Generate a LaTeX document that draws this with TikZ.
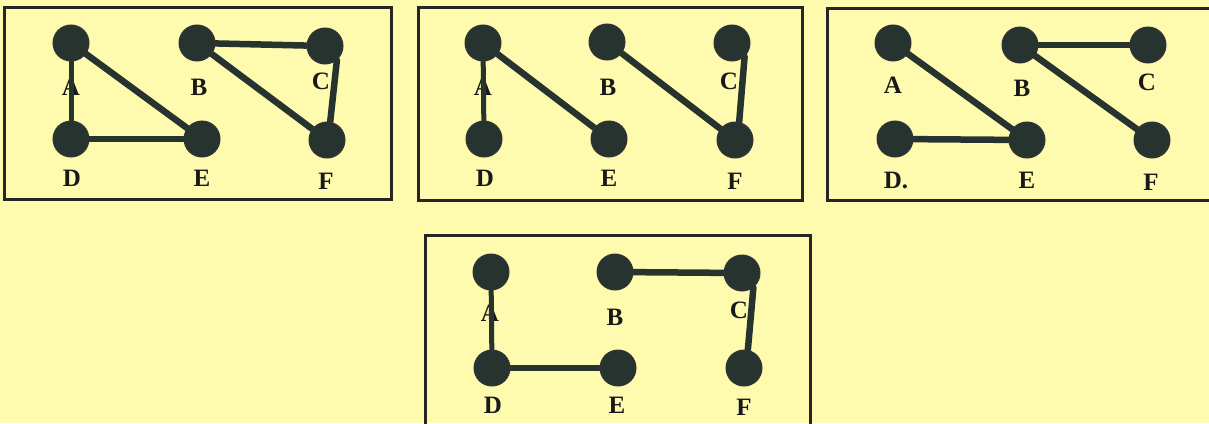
\documentclass[tikz,border=0pt]{standalone}
\usepackage{fontspec}
\setmainfont{Liberation Serif}
\pgfdeclarelayer{bg}
\pgfdeclarelayer{lbl}
\pgfdeclarelayer{edges}
\pgfsetlayers{bg,lbl,edges,main}
\definecolor{paper}{HTML}{FEFBAE}
\definecolor{ink}{HTML}{26332F}
\tikzset{
  vtx/.style={circle,fill=ink,draw=black!80,line width=1pt,minimum size=36pt,inner sep=0pt},
  lab/.style={inner sep=0pt,font=\fontsize{25}{27}\selectfont\bfseries,text=black!90},
  edg/.style={draw=ink,line width=6.5pt,line cap=round},
  thinedg/.style={draw=ink,line width=5pt,line cap=round},
  frame/.style={draw=black!85,line width=3pt},
}
\begin{document}
\begin{tikzpicture}[x=1pt,y=-1pt]
\useasboundingbox (0,0) rectangle (1209,423);
\clip (0,0) rectangle (1209,423);
\begin{pgfonlayer}{bg}
\fill[paper] (0,0) rectangle (1209,423);
\draw[frame] (4,7) rectangle (391,199);
\draw[frame] (418,7) rectangle (802,200);
\draw[frame] (827,8) rectangle (1225,200);
\draw[frame] (425,235) rectangle (810,440);
\end{pgfonlayer}
% ---------- panel 1 ----------
\node[vtx] (a1) at (71,43) {};
\node[vtx] (b1) at (197,43) {};
\node[vtx] (c1) at (325,46) {};
\node[vtx] (d1) at (71,139) {};
\node[vtx] (e1) at (202,139) {};
\node[vtx] (f1) at (327,140) {};
\begin{pgfonlayer}{lbl}
\node[lab] (la1) at (71,87) {A};
\node[lab] (lb1) at (199,87) {B};
\node[lab] (lc1) at (321,81) {C};
\node[lab] (ld1) at (72,178) {D};
\node[lab] (le1) at (202,178) {E};
\node[lab] (lf1) at (326,181) {F};
\end{pgfonlayer}
\begin{pgfonlayer}{edges}
\draw[thinedg] (a1) -- (d1);
\draw[edg] (a1) -- (e1);
\draw[edg] (d1) -- (e1);
\draw[edg] (b1) -- (c1);
\draw[edg] (b1) -- (f1);
\draw[edg] (c1.-50) -- (f1.80);
\end{pgfonlayer}
% ---------- panel 2 ----------
\node[vtx] (a2) at (483,43) {};
\node[vtx] (b2) at (607,42) {};
\node[vtx] (c2) at (732,43) {};
\node[vtx] (d2) at (484,139) {};
\node[vtx] (e2) at (609,139) {};
\node[vtx] (f2) at (735,140) {};
\begin{pgfonlayer}{lbl}
\node[lab] (la2) at (483,87) {A};
\node[lab] (lb2) at (608,87) {B};
\node[lab] (lc2) at (729,81) {C};
\node[lab] (ld2) at (485,178) {D};
\node[lab] (le2) at (609,178) {E};
\node[lab] (lf2) at (735,181) {F};
\end{pgfonlayer}
\begin{pgfonlayer}{edges}
\draw[thinedg] (a2) -- (d2);
\draw[edg] (a2) -- (e2);
\draw[edg] (b2) -- (f2);
\draw[edg] (c2.-47) -- (f2.77);
\end{pgfonlayer}
% ---------- panel 3 ----------
\node[vtx] (a3) at (893,43) {};
\node[vtx] (b3) at (1020,45) {};
\node[vtx] (c3) at (1148,45) {};
\node[vtx] (d3) at (895,139) {};
\node[vtx] (e3) at (1027,140) {};
\node[vtx] (f3) at (1152,140) {};
\begin{pgfonlayer}{lbl}
\node[lab] (la3) at (893,85) {A};
\node[lab] (lb3) at (1022,88) {B};
\node[lab] (lc3) at (1147,82) {C};
\node[lab] (ld3) at (896,180) {D.};
\node[lab] (le3) at (1027,180) {E};
\node[lab] (lf3) at (1151,182) {F};
\end{pgfonlayer}
\begin{pgfonlayer}{edges}
\draw[edg] (a3) -- (e3);
\draw[edg] (d3) -- (e3);
\draw[edg] (b3) -- (c3);
\draw[edg] (b3) -- (f3);
\end{pgfonlayer}
% ---------- panel 4 ----------
\node[vtx] (a4) at (491,272) {};
\node[vtx] (b4) at (615,272) {};
\node[vtx] (c4) at (742,273) {};
\node[vtx] (d4) at (492,368) {};
\node[vtx] (e4) at (618,368) {};
\node[vtx] (f4) at (744,368) {};
\begin{pgfonlayer}{lbl}
\node[lab] (la4) at (490,313) {A};
\node[lab] (lb4) at (615,317) {B};
\node[lab] (lc4) at (739,310) {C};
\node[lab] (ld4) at (493,405) {D};
\node[lab] (le4) at (617,405) {E};
\node[lab] (lf4) at (744,407) {F};
\end{pgfonlayer}
\begin{pgfonlayer}{edges}
\draw[thinedg] (a4) -- (d4);
\draw[edg] (d4) -- (e4);
\draw[edg] (b4) -- (c4);
\draw[edg] (c4.-52) -- (f4.78);
\end{pgfonlayer}
\end{tikzpicture}
\end{document}
